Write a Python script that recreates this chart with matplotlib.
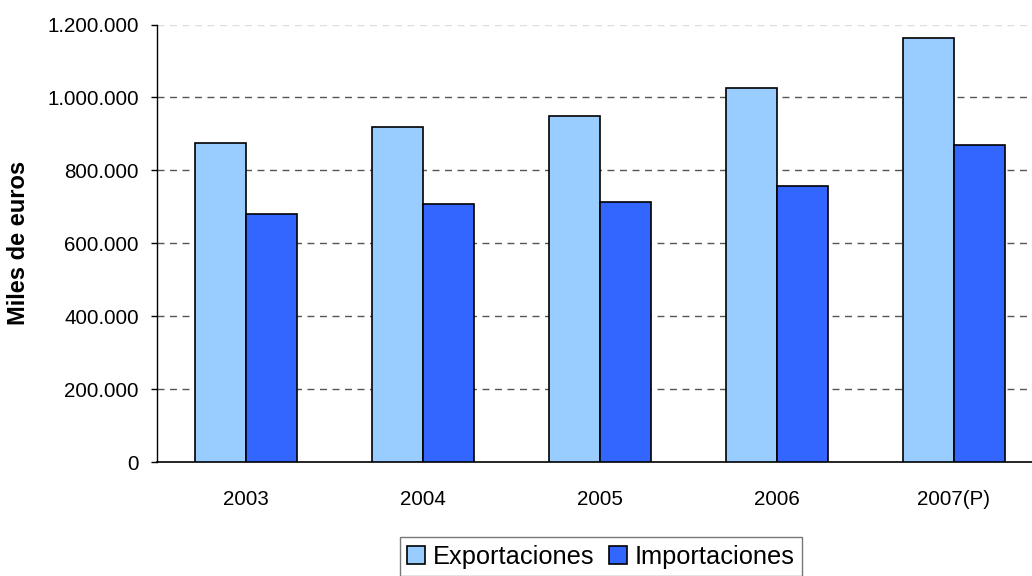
import numpy as np
import matplotlib
matplotlib.use("Agg")
import matplotlib.pyplot as plt

plt.rcParams['font.family'] = ['Liberation Sans', 'DejaVu Sans']

years = ["2003", "2004", "2005", "2006", "2007(P)"]
exportaciones = [874000, 919000, 949000, 1026000, 1162000]
importaciones = [680000, 708000, 713000, 757000, 870000]
yticks = [0, 200000, 400000, 600000, 800000, 1000000, 1200000]


def miles(v):
    return f"{v:,.0f}".replace(",", ".")


fig = plt.figure(figsize=(10.32, 5.76), dpi=100)
# plot area runs a little past the right edge, as in the original
ax_w = 1042.5 - 157
ax = fig.add_axes([157 / 1032, 114 / 576, ax_w / 1032, (462 - 24.5) / 576])

x = np.arange(len(years))
w = 0.288
ax.bar(x - w / 2, exportaciones, w, color="#99CCFF", edgecolor="black", linewidth=1.2,
       label="Exportaciones", zorder=3)
ax.bar(x + w / 2, importaciones, w, color="#3366FF", edgecolor="black", linewidth=1.2,
       label="Importaciones", zorder=3)

ax.set_xlim(-0.5, len(years) - 0.5)
ax.set_ylim(0, 1200000)
ax.set_yticks(yticks)
ax.set_yticklabels([miles(v) for v in yticks], fontsize=14.8)
ax.set_xticks(x)
ax.set_xticklabels(years, fontsize=14.8)
ax.tick_params(axis="x", length=0, pad=20)
ax.tick_params(axis="y", length=4, width=1, pad=9)

ax.yaxis.grid(True, linestyle=(0, (5, 4)), color="#555555", linewidth=1, zorder=0)
ax.get_ygridlines()[-1].set_color("#dddddd")
ax.get_ygridlines()[0].set_visible(False)

for s in ["top", "right"]:
    ax.spines[s].set_visible(False)
ax.spines["left"].set_linewidth(1)
ax.spines["bottom"].set_linewidth(1.2)

ax.set_ylabel("Miles de euros", fontsize=17, fontweight="bold")
ax.yaxis.set_label_coords((30 - 157) / ax_w, 0.5)

leg = fig.legend(loc="upper center", bbox_to_anchor=(601 / 1032, 1 - 537 / 576), ncol=2,
                 fontsize=18.3, frameon=True, fancybox=False, handlelength=0.7,
                 handleheight=0.7, handletextpad=0.3, columnspacing=0.6,
                 borderpad=0.3, borderaxespad=0)
leg.get_frame().set_edgecolor("#555555")
leg.get_frame().set_linewidth(1)

fig.savefig("out.png", dpi=100)
